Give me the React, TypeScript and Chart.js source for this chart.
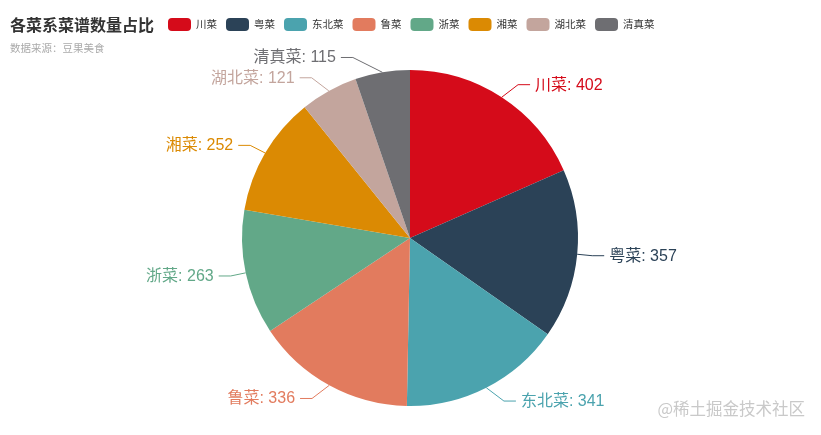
import React, { useEffect, useRef } from 'react';
import { Chart, registerables } from 'chart.js';

Chart.register(...registerables);

const categories = ['川菜', '粤菜', '东北菜', '鲁菜', '浙菜', '湘菜', '湖北菜', '清真菜'];
const counts = [402, 357, 341, 336, 263, 252, 121, 115];
const colors = ['#d50b1a', '#2b4257', '#4ba3ae', '#e27b5e', '#62a888', '#db8a03', '#c3a59d', '#6e6e72'];
const titleText = '各菜系菜谱数量占比';
const subtitleText = '数据来源：豆果美食';
const watermarkText = '@稀土掘金技术社区';

const FONT = "'Noto Sans CJK SC', 'Noto Sans', sans-serif";
const LABEL_FONT = "'Liberation Sans', 'Noto Sans CJK SC', sans-serif";

// label line geometry (echarts-like outer labels)
const LEN1 = 15;
const LEN2 = 12;
const GAP = 5;

const decorPlugin = {
  id: 'decor',
  afterDraw(chart: any) {
    const ctx: CanvasRenderingContext2D = chart.ctx;
    ctx.save();
    ctx.textBaseline = 'middle';
    ctx.textAlign = 'left';

    // title + subtitle
    ctx.fillStyle = '#333';
    ctx.font = `bold 16px ${FONT}`;
    ctx.fillText(titleText, 10, 25);
    ctx.fillStyle = '#aaa';
    ctx.font = `10.5px ${FONT}`;
    ctx.fillText(subtitleText, 10, 48);

    // legend
    let lx = 168;
    ctx.font = `10.5px ${FONT}`;
    categories.forEach((name, i) => {
      ctx.fillStyle = colors[i];
      ctx.beginPath();
      (ctx as any).roundRect(lx, 18, 23, 13, 4);
      ctx.fill();
      ctx.fillStyle = '#333';
      ctx.fillText(name, lx + 28, 24.5);
      lx += 28 + ctx.measureText(name).width + 9;
    });

    // outer labels with leader lines
    const meta = chart.getDatasetMeta(0);
    ctx.font = `16px ${LABEL_FONT}`;
    ctx.lineWidth = 1;
    meta.data.forEach((arc: any, i: number) => {
      const { startAngle, endAngle, outerRadius, x, y } = arc.getProps(
        ['startAngle', 'endAngle', 'outerRadius', 'x', 'y'],
        true
      );
      const a = (startAngle + endAngle) / 2;
      const dir = Math.cos(a) < 0 ? -1 : 1;
      const x1 = x + outerRadius * Math.cos(a);
      const y1 = y + outerRadius * Math.sin(a);
      const rA = outerRadius + LEN1;
      const rB = outerRadius + LEN1 + 7;
      const y2 = y + rA * Math.sin(a);
      const dy = Math.abs(y2 - y);
      const x2 = x + dir * rA * Math.sqrt(Math.max(0, 1 - (dy / rB) * (dy / rB)));
      const x3 = x2 + dir * LEN2;

      ctx.strokeStyle = colors[i];
      ctx.beginPath();
      ctx.moveTo(x1, y1);
      ctx.lineTo(x2, y2);
      ctx.lineTo(x3, y2);
      ctx.stroke();

      ctx.fillStyle = colors[i];
      ctx.textAlign = dir < 0 ? 'right' : 'left';
      ctx.fillText(`${categories[i]}: ${counts[i]}`, x3 + dir * GAP, y2 + 0.5);
    });

    // watermark
    ctx.textAlign = 'right';
    ctx.fillStyle = '#c9c9c9';
    ctx.font = `16.5px ${FONT}`;
    ctx.fillText(watermarkText, 805, 409);
    ctx.restore();
  },
};

export default function App() {
  const canvasRef = useRef<HTMLCanvasElement | null>(null);
  const chartRef = useRef<Chart | null>(null);

  useEffect(() => {
    const ctx = canvasRef.current?.getContext('2d');
    if (!ctx) return;
    try { chartRef.current?.destroy(); } catch {}

    chartRef.current = new Chart(ctx, {
      type: 'pie',
      data: {
        labels: categories,
        datasets: [
          {
            data: counts,
            backgroundColor: colors,
            borderWidth: 0,
            hoverOffset: 0,
          },
        ],
      },
      options: {
        responsive: true,
        maintainAspectRatio: false,
        animation: false,
        layout: { padding: { left: 242, right: 243, top: 70, bottom: 29 } },
        plugins: {
          legend: { display: false },
          title: { display: false },
          tooltip: { enabled: false },
        },
      },
      plugins: [decorPlugin],
    } as any);

    return () => {
      try { chartRef.current?.destroy(); } catch {}
      chartRef.current = null;
    };
  }, []);

  return (
    <div style={{ position: 'absolute', left: 0, top: 0, width: 821, height: 435, background: '#fff' }}>
      <canvas ref={canvasRef} />
    </div>
  );
}
